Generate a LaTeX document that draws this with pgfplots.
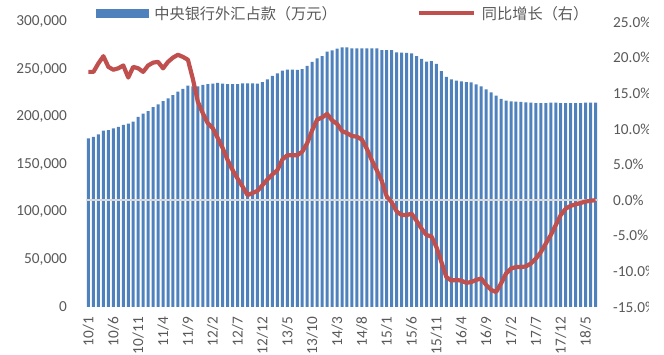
\documentclass[border=0pt]{standalone}
\usepackage{fontspec}
\setmainfont{Carlito}
\newfontfamily\cjk{Noto Sans CJK SC}
\usepackage{pgfplots}
\usepackage{pgfplotstable}
\pgfplotsset{compat=1.18}

\definecolor{barblue}{RGB}{79,129,189}
\definecolor{linered}{RGB}{192,80,77}
\definecolor{labelgray}{RGB}{89,89,89}
\definecolor{zerogray}{RGB}{217,217,217}

% monthly data, 2010/01 (idx 0) to 2018/07 (idx 102)
% fx: central bank forex holdings; yoy: year-on-year growth in %
\pgfplotstableread{
idx fx yoy
0 177600 18.0
1 179000 18.0
2 181800 19.2
3 185600 20.2
4 186300 18.7
5 188000 18.3
6 189500 18.5
7 191600 18.9
8 193000 17.2
9 195000 18.7
10 200000 18.5
11 203500 18.0
12 206300 18.9
13 210500 19.3
14 213400 19.4
15 216800 18.5
16 219600 19.4
17 223000 20.0
18 226600 20.4
19 229500 20.1
20 233000 19.7
21 232300 17.0
22 232300 13.8
23 233700 12.2
24 234700 10.8
25 235100 10.1
26 235800 8.7
27 235100 7.3
28 234700 5.6
29 234700 4.2
30 234700 3.0
31 235400 1.9
32 235400 0.7
33 235400 1.0
34 235100 1.3
35 236800 2.1
36 239600 2.9
37 243200 3.6
38 246000 4.2
39 248800 5.7
40 249800 6.3
41 249800 6.3
42 249500 6.3
43 250500 6.8
44 253700 8.0
45 257900 9.8
46 261800 11.3
47 264200 11.6
48 268700 12.1
49 270200 11.2
50 271900 10.7
51 273300 9.7
52 273300 9.4
53 272300 9.0
54 272300 8.9
55 272300 8.5
56 272300 7.2
57 272300 5.6
58 272300 4.2
59 270500 2.7
60 270500 0.5
61 270500 -0.3
62 268100 -1.6
63 267700 -2.1
64 267400 -2.1
65 267000 -1.9
66 264200 -2.9
67 261100 -4.0
68 258200 -4.9
69 258900 -5.1
70 255800 -6.6
71 248400 -8.7
72 242100 -10.8
73 239600 -11.3
74 238200 -11.2
75 237500 -11.3
76 236800 -11.6
77 236500 -11.5
78 234400 -11.2
79 232300 -11.0
80 229100 -11.9
81 226000 -12.6
82 222500 -12.9
83 219000 -11.7
84 217200 -10.3
85 216500 -9.6
86 216100 -9.4
87 215800 -9.4
88 215400 -9.3
89 215100 -8.9
90 214700 -8.2
91 214700 -7.3
92 214700 -6.1
93 215100 -4.9
94 215100 -3.5
95 214700 -2.1
96 214700 -1.2
97 214700 -0.8
98 214700 -0.6
99 214700 -0.4
100 215100 -0.2
101 215100 -0.1
102 215100 0.0
}\datatable

\pgfplotsset{
  common/.style={
    at={(86pt,48pt)}, anchor=south west,
    scale only axis, width=512pt, height=285pt,
    xmin=-0.5, xmax=102.5,
    axis line style={draw=none},
    tick style={draw=none},
    major tick length=0pt,
    tick label style={font=\fontsize{15.3}{18}\selectfont, text=labelgray},
  },
}

\begin{document}
\begin{tikzpicture}
\useasboundingbox (0,0) rectangle (664pt,355pt);
\begin{scope}
\clip (0,0) rectangle (648pt,355pt);

% left axis: bars
\begin{axis}[common,
  axis x line*=bottom, axis y line*=left,
  ymin=0, ymax=300000,
  scaled y ticks=false,
  ytick={0,50000,100000,150000,200000,250000,300000},
  yticklabels={0,{50,000},{100,000},{150,000},{200,000},{250,000},{300,000}},
  yticklabel style={anchor=east, inner sep=0pt},
  yticklabel shift=19pt,
  xtick={0,5,...,100},
  xticklabels={10/1,10/6,10/11,11/4,11/9,12/2,12/7,12/12,13/5,13/10,14/3,14/8,15/1,15/6,15/11,16/4,16/9,17/2,17/7,17/12,18/5},
  xticklabel style={rotate=90, anchor=east, inner sep=0pt},
  xticklabel shift=10pt,
]
\addplot[ybar, bar width=3pt, bar shift=0pt, fill=barblue, draw=none] table[x=idx, y=fx]{\datatable};
\end{axis}

% right axis: growth line
\begin{axis}[common,
  axis x line*=bottom, axis y line*=right,
  ymin=-15, ymax=25,
  ytick={-15,-10,-5,0,5,10,15,20,25},
  yticklabels={-15.0\%,-10.0\%,-5.0\%,0.0\%,5.0\%,10.0\%,15.0\%,20.0\%,25.0\%},
  yticklabel style={anchor=west, inner sep=0pt},
  yticklabel shift=15pt,
  xtick=\empty,
  legend columns=2,
  legend style={
    at={(axis description cs:0.0195,1.0305)}, anchor=west,
    draw=none, fill=none, inner sep=0pt, outer sep=0pt,
    font=\cjk\fontsize{15.2}{18}\selectfont, text=labelgray,
    nodes={inner sep=0pt},
    /tikz/every odd column/.append style={column sep=6pt},
    /tikz/every even column/.append style={column sep=80pt},
  },
]
\addlegendimage{legend image code/.code={\fill[barblue] (0pt,-4pt) rectangle (52pt,4pt);}}
\addlegendentry{中央银行外汇占款（万元）}
\addplot[zerogray, line width=2pt, forget plot] coordinates {(-0.5,0) (102.5,0)};
\addplot[linered, line width=4.2pt, line join=round,
  legend image code/.code={\draw[linered, line width=4.2pt] (0pt,0pt) -- (55pt,0pt);}]
  table[x=idx, y=yoy]{\datatable};
\addlegendentry{同比增长（右）}
\end{axis}
\end{scope}
\end{tikzpicture}
\end{document}
